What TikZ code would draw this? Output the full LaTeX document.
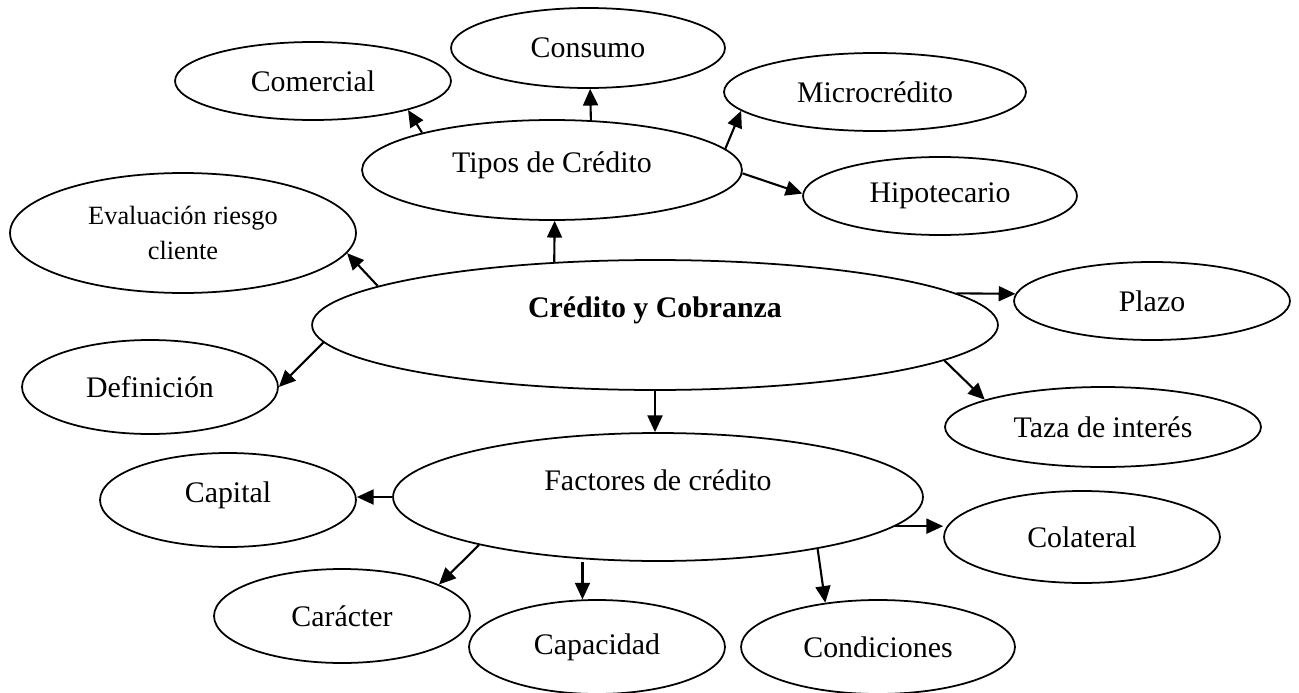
\documentclass[tikz,border=0pt]{standalone}
\usepackage{fontspec}
\setmainfont{Liberation Serif}
\usetikzlibrary{shapes.geometric}
\usetikzlibrary{arrows.meta}
\tikzset{
	concept/.style={draw, ellipse, line width=1pt, inner sep=0pt, font=\fontsize{17}{19.8}\selectfont},
	% the central topic
	topic/.style={concept, font=\fontsize{17}{19.8}\selectfont\bfseries},
	small/.style={concept, align=center, font=\fontsize{15}{19.8}\selectfont},
}

\begin{document}
\begin{tikzpicture}[x=0.02cm, y=-0.02cm]
	\useasboundingbox (0,0) rectangle (1299,693);
	
	\node (credito) [topic, minimum width=13.72cm, minimum height=2.6cm, text depth=20pt] at (655,325) {Crédito y Cobranza};
	
	\node (tipos) [concept, minimum width=7.6cm, minimum height=2cm, text depth=9pt] at (552,170) {Tipos de Crédito};
	\node (consumo) [concept, minimum width=5.48cm, minimum height=1.6cm] at (588,48) {Consumo};
	\node (comercial) [concept, minimum width=5.52cm, minimum height=1.56cm] at (313,81) {Comercial};
	\node (micro) [concept, minimum width=6.04cm, minimum height=1.56cm] at (875,92) {Microcrédito};
	\node (hipo) [concept, minimum width=5.48cm, minimum height=1.56cm] at (940,196) {Hipotecario};
	
	\node (riesgo) [small, minimum width=6.92cm, minimum height=2.4cm] at (183,233) {Evaluación riesgo\\cliente};
	\node (definicion) [concept, minimum width=5.12cm, minimum height=1.88cm] at (150,387) {Definición};
	\node (plazo) [concept, minimum width=5.52cm, minimum height=1.56cm] at (1152,301) {Plazo};
	\node (interes) [concept, minimum width=6.32cm, minimum height=1.6cm] at (1103,427) {Taza de interés};
	
	\node (factores) [concept, minimum width=10.6cm, minimum height=2.56cm, text depth=19pt] at (658,497) {Factores de crédito};
	\node (capital) [concept, minimum width=5.12cm, minimum height=1.88cm, text depth=9pt] at (228,500) {Capital};
	\node (colateral) [concept, minimum width=5.52cm, minimum height=1.84cm] at (1082,537) {Colateral};
	\node (caracter) [concept, minimum width=5.12cm, minimum height=1.88cm] at (342,616) {Carácter};
	\node (capacidad) [concept, minimum width=5.12cm, minimum height=1.88cm] at (597,647) {Capacidad};
	\node (condiciones) [concept, minimum width=5.48cm, minimum height=1.88cm] at (878,647) {Condiciones};
	
	\begin{scope}[line width=1.2pt, black, ->, >={Triangle[length=9.5pt, width=8.5pt]}]
		\draw (credito.148) -- (tipos.-87);
		\draw (tipos.52) -- (consumo.-87);
		\draw (tipos.164) -- (comercial.-17);
		\draw (tipos.7) -- (micro.188);
		\draw (tipos.-1) -- (hipo.179);
		
		\draw (credito.172) -- (riesgo.-7);
		\draw (credito.-177) -- (definicion.east);
		\draw (credito.6) -- (plazo.177);
		\draw (credito.-7) -- (interes.167);
		\draw (credito.south) -- (credito.south |- factores.north);
		
		\draw (factores.west) -- (capital.east |- factores.west);
		\draw (factores.-7) -- (colateral.west |- factores.-7);
		\draw (factores.195) -- (caracter.18);
		\draw (factores.south -| capacidad.107) -- (capacidad.107);
		\draw (factores.-18) -- (condiciones.140);
	\end{scope}
\end{tikzpicture}
\end{document}
